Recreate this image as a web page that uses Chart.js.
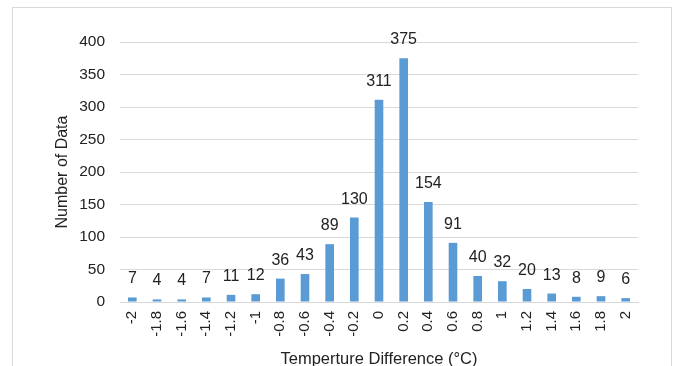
<!DOCTYPE html>
<html>
<head>
<meta charset="utf-8">
<script src="https://cdn.jsdelivr.net/npm/chart.js@4"></script>
<style>
  html, body { margin: 0; padding: 0; background: #fff; overflow: hidden; }
  #wrap { position: relative; width: 680px; height: 366px; }
  #frame { position: absolute; left: 12px; top: 7px; width: 660px; height: 380px; border: 1px solid #d9d9d9; box-sizing: border-box; pointer-events: none; }
  canvas { position: absolute; left: 0; top: 0; }
</style>
</head>
<body>
<div id="wrap">
  <canvas id="c" width="680" height="366"></canvas>
  <div id="frame"></div>
</div>
<script>
const categories = ['-2','-1.8','-1.6','-1.4','-1.2','-1','-0.8','-0.6','-0.4','-0.2','0','0.2','0.4','0.6','0.8','1','1.2','1.4','1.6','1.8','2'];
const counts = [7,4,4,7,11,12,36,43,89,130,311,375,154,91,40,32,20,13,8,9,6];
const yTicks = [0,50,100,150,200,250,300,350,400];

const FONT = "'Liberation Sans', Arial, sans-serif";
const TEXT = '#222222';

const labelPlugin = {
  id: 'barLabels',
  afterDatasetsDraw(chart) {
    const ctx = chart.ctx;
    const meta = chart.getDatasetMeta(0);
    ctx.save();
    ctx.font = '16px ' + FONT;
    ctx.fillStyle = TEXT;
    ctx.textAlign = 'center';
    ctx.textBaseline = 'alphabetic';
    meta.data.forEach((bar, i) => {
      ctx.fillText(String(counts[i]), bar.x, bar.y - 14);
    });
    ctx.restore();
  }
};

new Chart(document.getElementById('c'), {
  type: 'bar',
  data: {
    labels: categories,
    datasets: [{
      data: counts,
      backgroundColor: '#5B9BD5',
      borderWidth: 0,
      barPercentage: 0.35,
      categoryPercentage: 1.0
    }]
  },
  options: {
    responsive: false,
    animation: false,
    events: [],
    layout: { padding: { left: 0, right: 42, top: 42, bottom: 0 } },
    plugins: { legend: { display: false }, tooltip: { enabled: false } },
    scales: {
      x: {
        grid: { display: false, drawTicks: false },
        border: { display: true, color: '#d9d9d9', width: 1 },
        ticks: {
          color: TEXT,
          font: { family: FONT, size: 15 },
          minRotation: 90,
          maxRotation: 90,
          padding: 9,
          autoSkip: false
        },
        title: {
          display: true,
          text: 'Temperture Difference (°C)',
          color: TEXT,
          font: { family: FONT, size: 16.5, lineHeight: 0.85 },
          padding: { top: 0, bottom: 0 }
        },
        afterFit(scale) { scale.height = 64; }
      },
      y: {
        min: 0,
        max: 400,
        afterBuildTicks(scale) { scale.ticks = yTicks.map(v => ({ value: v })); },
        grid: { color: '#d9d9d9', lineWidth: 1, drawTicks: false },
        border: { display: false },
        ticks: {
          color: TEXT,
          font: { family: FONT, size: 15.5 },
          padding: 15
        },
        title: {
          display: true,
          text: 'Number of Data',
          color: TEXT,
          font: { family: FONT, size: 16, lineHeight: 1.0 },
          padding: { top: 55, bottom: 0 }
        },
        afterFit(scale) { scale.width = 120; }
      }
    }
  },
  plugins: [labelPlugin]
});
</script>
</body>
</html>
